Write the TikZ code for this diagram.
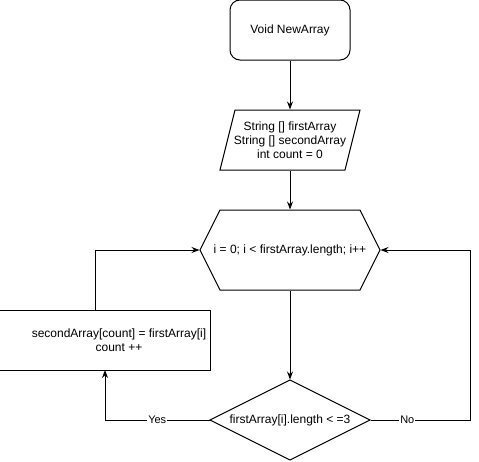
\documentclass[tikz,border=0pt]{standalone}
\usepackage{fontspec}
\setmainfont{Liberation Sans}
\usetikzlibrary{arrows.meta}
\begin{document}
\begin{tikzpicture}[x=1pt,y=-1pt,line width=1pt,
  >={Stealth[length=8pt,width=6pt]},
  txt/.style={font=\fontsize{12}{14}\selectfont,align=center,inner sep=0pt},
  anch/.style={txt,minimum width=#1},
  lbl/.style={font=\fontsize{11}{13}\selectfont,fill=white,inner sep=1pt}]
\clip (0,0) rectangle (479,461);
% start
\node[txt,draw,rounded corners=10pt,minimum width=120pt,minimum height=60pt] (start) at (290,30) {Void NewArray};
% parallelogram
\node[txt,minimum width=140pt,minimum height=60pt] (vars) at (290,140) {String [] firstArray\\String [] secondArray\\int count = 0};
\draw (235,110) -- (360,110) -- (345,170) -- (220,170) -- cycle;
% hexagon
\node[txt,minimum width=180pt,minimum height=80pt] (loop) at (290,250) {i = 0; i < firstArray.length; i++};
\draw (200,250) -- (220,210) -- (360,210) -- (380,250) -- (360,290) -- (220,290) -- cycle;
% diamond
\node[txt,minimum width=160pt,minimum height=80pt] (cond) at (290,420) {firstArray[i].length < =3};
\draw (210,420) -- (290,380) -- (370,420) -- (290,460) -- cycle;
% body
\node[draw,minimum width=214pt,minimum height=60pt,inner sep=0pt] (body) at (103,340) {};
\node[txt] (bodytxt) at (119,340) {secondArray[count] = firstArray[i]\\count ++};
% connector coordinates
\coordinate (yesend) at (105,370);
\coordinate (upstart) at (95,310);
\coordinate (nocorner) at (470,420);
% connectors
\draw[->] (start.south) -- (vars.north);
\draw[->] (vars.south) -- (loop.north);
\draw[->] (loop.south) -- (cond.north);
\draw[->] (cond.west) -| node[lbl,pos=0.25]{Yes} (yesend);
\draw[->] (upstart) |- (loop.west);
\draw[->] (cond.east) -- node[lbl,pos=0.37]{No} (nocorner) |- (loop.east);
\end{tikzpicture}
\end{document}
